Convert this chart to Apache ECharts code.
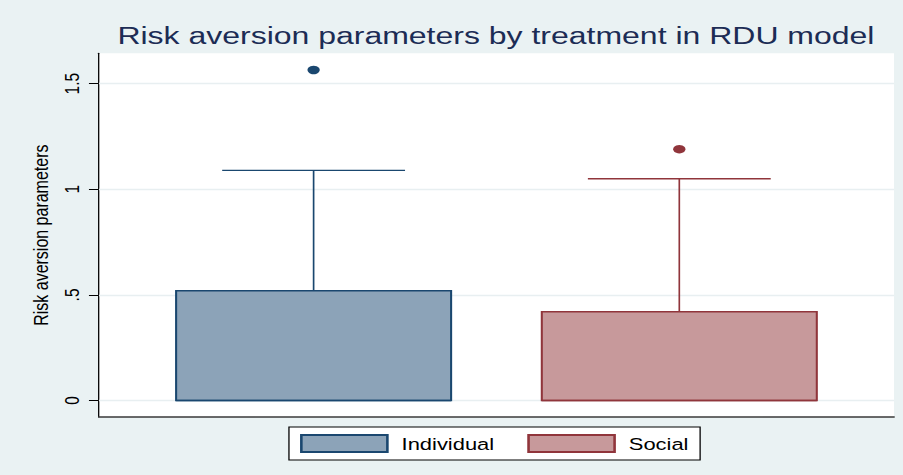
<!DOCTYPE html>
<html>
<head>
<meta charset="utf-8">
<script src="https://cdn.jsdelivr.net/npm/echarts@6/dist/echarts.min.js"></script>
<style>
  html, body { margin: 0; padding: 0; background: #eaf2f3; }
  #wrap { width: 903px; height: 475px; overflow: hidden; background: #eaf2f3; }
  #chart { width: 700px; height: 475px; transform: scaleX(1.29); transform-origin: 0 0; }
</style>
</head>
<body>
<div id="wrap"><div id="chart"></div></div>
<script>
// ---- data ----
const categories   = ['Individual', 'Social'];
const lowWhisker   = [0, 0];
const lowerQuart   = [0, 0];
const medians      = [0, 0];
const upperQuart   = [0.52, 0.42];
const highWhisker  = [1.09, 1.05];
const outliers     = [[1.565], [1.19]];
const yTickValues  = [0, 0.5, 1, 1.5];
const yTickLabels  = ['0', '.5', '1', '1.5'];

// ---- styles ----
const fills   = ['#8ca3b8', '#c7999b'];
const borders = ['#1a476f', '#90353b'];
const FONT = 'Liberation Sans, Arial, sans-serif';
const BOX_W = 0.752, CAP_W = 0.5;

const chart = echarts.init(document.getElementById('chart'), null, { renderer: 'svg' });

function renderBox(params, api) {
  const x = api.value(0);
  const lo = api.value(1), q1 = api.value(2), med = api.value(3), q3 = api.value(4), hi = api.value(5);
  const c = params.seriesIndex - 1;
  const w = api.size([BOX_W, 0])[0];
  const cw = api.size([CAP_W, 0])[0];
  const pLo = api.coord([x, lo]), pQ1 = api.coord([x, q1]), pMed = api.coord([x, med]);
  const pQ3 = api.coord([x, q3]), pHi = api.coord([x, hi]);
  const stroke = { stroke: borders[c], lineWidth: 1.3 };
  return {
    type: 'group',
    children: [
      { type: 'line', shape: { x1: pHi[0], y1: pHi[1], x2: pQ3[0], y2: pQ3[1] }, style: stroke },
      { type: 'line', shape: { x1: pHi[0] - cw / 2, y1: pHi[1], x2: pHi[0] + cw / 2, y2: pHi[1] }, style: stroke },
      { type: 'line', shape: { x1: pLo[0], y1: pLo[1], x2: pQ1[0], y2: pQ1[1] }, style: stroke },
      { type: 'rect', shape: { x: pQ3[0] - w / 2, y: pQ3[1], width: w, height: pQ1[1] - pQ3[1] },
        style: { fill: fills[c], stroke: borders[c], lineWidth: 1.6 } },
      { type: 'line', shape: { x1: pMed[0] - w / 2, y1: pMed[1], x2: pMed[0] + w / 2, y2: pMed[1] },
        style: { stroke: borders[c], lineWidth: 1.6 } }
    ]
  };
}

const series = [
  {
    type: 'line', name: 'grid', data: [], silent: true, z: 1,
    markLine: {
      silent: true, symbol: 'none', label: { show: false }, z: 1,
      lineStyle: { color: '#e8eff1', width: 1.3, type: 'solid' },
      data: yTickValues.map(v => ({ yAxis: v }))
    }
  }
];
categories.forEach((name, i) => {
  series.push({
    type: 'custom', name: name, z: 3,
    itemStyle: { color: fills[i], borderColor: borders[i], borderWidth: 1.5 },
    renderItem: renderBox,
    encode: { x: 0, y: [1, 2, 3, 4, 5] },
    data: [[i + 1, lowWhisker[i], lowerQuart[i], medians[i], upperQuart[i], highWhisker[i]]]
  });
});
categories.forEach((name, i) => {
  series.push({
    type: 'scatter', name: name + ' outliers', z: 4,
    symbol: 'circle', symbolSize: [9.5, 8.5],
    itemStyle: { color: borders[i], opacity: 1 },
    data: outliers[i].map(v => [i + 1, v])
  });
});

chart.setOption({
  backgroundColor: '#eaf2f3',
  animation: false,
  title: {
    text: 'Risk aversion parameters by treatment in RDU model',
    left: 91, top: 23, padding: 0,
    textStyle: { fontFamily: FONT, fontWeight: 'normal', fontSize: 24.8, color: '#1c2c55' }
  },
  legend: {
    data: categories,
    left: 224, top: 427,
    padding: [7, 9, 7, 8.6],
    backgroundColor: '#ffffff', borderColor: '#000000', borderWidth: 1, borderRadius: 0,
    icon: 'rect', itemWidth: 66.7, itemHeight: 17, itemGap: 25.6,
    textStyle: { fontFamily: FONT, fontSize: 17, color: '#000', padding: [0, 0, 0, 6] },
    selectedMode: false
  },
  grid: {
    left: 76.7, right: 7, top: 53.3, bottom: 58,
    show: true, backgroundColor: '#ffffff', borderWidth: 0
  },
  xAxis: {
    type: 'value', min: 0.413, max: 2.587,
    axisLine: { show: true, onZero: false, lineStyle: { color: '#3a3a3a', width: 1.6 } },
    axisTick: { show: false }, axisLabel: { show: false }, splitLine: { show: false }
  },
  yAxis: {
    type: 'value', min: -0.078, max: 1.644,
    name: 'Risk aversion parameters', nameLocation: 'middle', nameRotate: 90, nameGap: 34,
    nameTextStyle: { fontFamily: FONT, fontSize: 16, color: '#000' },
    axisLine: { show: true, onZero: false, lineStyle: { color: '#000', width: 1 } },
    axisTick: { show: true, length: 7.75, customValues: yTickValues, lineStyle: { color: '#000', width: 1 } },
    axisLabel: {
      show: true, customValues: yTickValues, rotate: 90, margin: 13,
      fontFamily: FONT, fontSize: 15.5, color: '#000',
      formatter: v => yTickLabels[yTickValues.indexOf(v)] ?? ''
    },
    splitLine: { show: false }
  },
  series: series
});
</script>
</body>
</html>
